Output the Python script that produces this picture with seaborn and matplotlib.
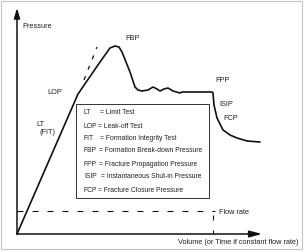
import pandas as pd
import matplotlib.pyplot as plt
import matplotlib.patches as mpatches
import seaborn as sns

# --- Du lieu so do (don vi: the tich / ap suat tuong doi) ---
volume = [0, 61, 83, 93, 98, 102, 105, 113, 118, 121, 125, 131, 136, 140, 143,
          147, 151, 156, 163, 165, 195, 196, 197, 200, 206, 213, 220, 230, 243]
pressure = [0, 140, 172, 186, 188, 187, 182, 162, 147, 144, 143, 144, 147, 145, 143,
            145, 146, 143, 141, 142, 142, 141, 129, 116, 104, 99, 96, 93, 92]

extrap_volume = [67, 80]
extrap_pressure = [154, 187]

flow_volume = [0, 198]
flow_rate = [23, 23]

point_labels = ['Pressure', 'FBP', 'LOP', 'LT', '(FIT)', 'FPP', 'ISIP', 'FCP', 'Flow rate']
point_x = [5, 108, 30, 19, 23, 198, 202, 206, 202]
point_y = [208, 195, 142, 110, 101, 154, 129, 115, 22]

legend_keys = ['LT', 'LOP', 'FIT', 'FBP', 'FPP', 'ISIP', 'FCP']
legend_desc = ['= Limit Test', '= Leak-off Test', '= Formation Integrity Test',
               '= Formation Break-down Pressure', '= Fracture Propagation Pressure',
               '= Instantaneous Shut-in Pressure', '= Fracture Closure Pressure']
legend_eq_x = [83, 81.5, 83, 82, 82, 84, 81.5]
legend_y = [121, 108, 95, 83, 70, 57, 44]

x_label = 'Volume (or Time if constant flow rate)'

# --- Cai dat giao dien ---
sns.set_style('white')
plt.rcParams['font.family'] = ['Liberation Sans', 'DejaVu Sans']
plt.rcParams['lines.scale_dashes'] = False
TXT = '#222222'
FS = 5.3
FS_LEG = 4.9

fig = plt.figure(figsize=(3.05, 2.52), dpi=100)
ax = fig.add_axes([0, 0, 1, 1])
ax.set_xlim(-17, 288)
ax.set_ylim(-18, 234)
ax.axis('off')

curve = pd.DataFrame({'volume': volume, 'pressure': pressure})
sns.lineplot(data=curve, x='volume', y='pressure', sort=False, estimator=None,
             color='#111111', linewidth=1.2, ax=ax)

extrap = pd.DataFrame({'volume': extrap_volume, 'pressure': extrap_pressure})
sns.lineplot(data=extrap, x='volume', y='pressure', sort=False, estimator=None,
             color='#111111', linewidth=0.9, linestyle=(0, (3, 5)), ax=ax)

flow = pd.DataFrame({'volume': flow_volume, 'rate': flow_rate})
sns.lineplot(data=flow, x='volume', y='rate', sort=False, estimator=None,
             color='#111111', linewidth=0.8, linestyle=(0, (4.3, 6.5)), ax=ax)

# vach nho danh dau thoi diem dung bom
ax.plot([196, 196], [19, 0], color='#111111', lw=0.8, linestyle=(0, (3.6, 7.2)))

# --- Truc toa do co mui ten ---
ax.annotate('', xy=(0, 226), xytext=(0, 0),
            arrowprops=dict(arrowstyle='-|>,head_length=0.6,head_width=0.18',
                            color='#111111', lw=1.1, shrinkA=0, shrinkB=0,
                            mutation_scale=10))
ax.annotate('', xy=(245, 0), xytext=(0, 0),
            arrowprops=dict(arrowstyle='-|>,head_length=0.75,head_width=0.2',
                            color='#111111', lw=1.1, shrinkA=0, shrinkB=0,
                            mutation_scale=10))

# --- Nhan ---
for lab, x, y in zip(point_labels, point_x, point_y):
    ax.text(x, y, lab, fontsize=FS, color=TXT, ha='left', va='center')
ax.text(282, -9, x_label, fontsize=FS, color=TXT, ha='right', va='center')

# --- Hop chu thich ---
ax.add_patch(mpatches.Rectangle((59, 36), 133, 94, fill=False,
                                edgecolor='#333333', lw=0.7))
for key, desc, ex, y in zip(legend_keys, legend_desc, legend_eq_x, legend_y):
    ax.text(67, y, key, fontsize=FS_LEG, color=TXT, ha='left', va='center')
    ax.text(ex, y, desc, fontsize=FS_LEG, color=TXT, ha='left', va='center')

# khung vien ngoai
fig.patches.append(mpatches.Rectangle((1 / 305, 3 / 252), 301 / 305, 248 / 252,
                                      transform=fig.transFigure, fill=False,
                                      edgecolor='#c4c4c4', lw=0.8))

plt.savefig('out.png', dpi=100)
